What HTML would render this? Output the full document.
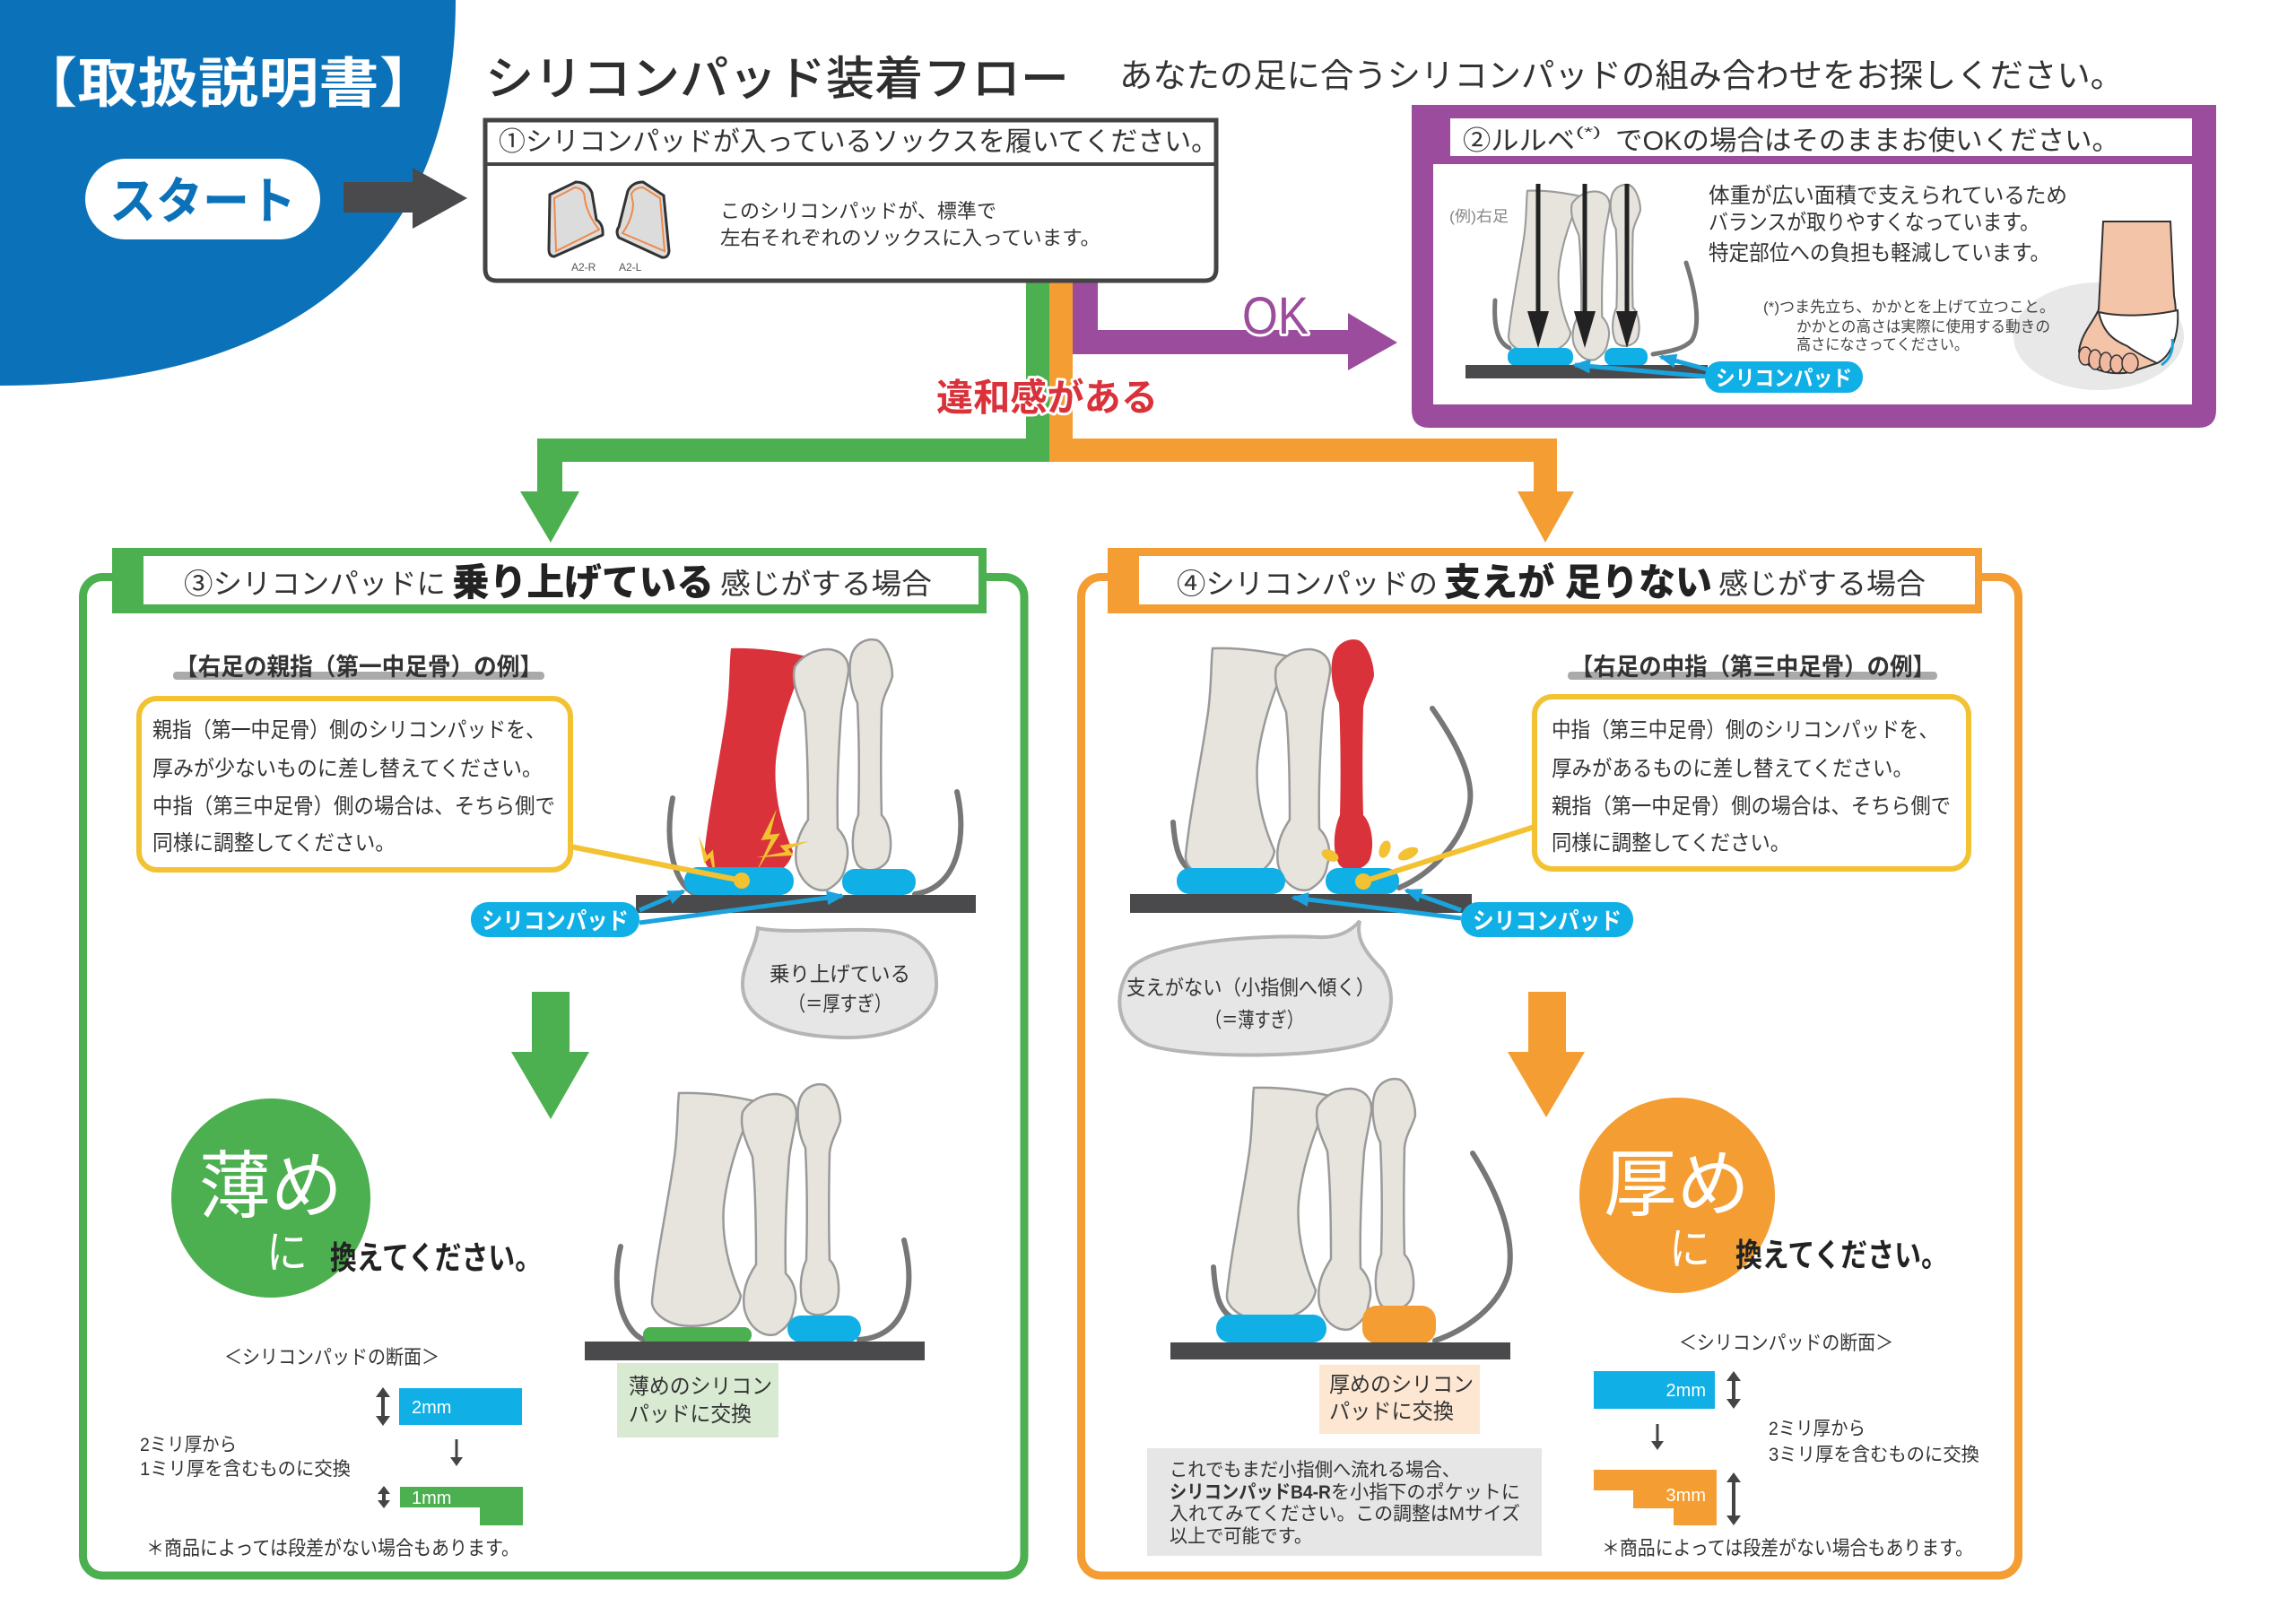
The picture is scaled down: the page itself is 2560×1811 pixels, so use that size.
<!DOCTYPE html>
<html><head><meta charset="utf-8"><style>
html,body{margin:0;padding:0;background:#fff;}
svg{display:block;}
text{font-family:"Liberation Sans","Noto Sans CJK JP",sans-serif;fill:#333;}
.b{font-weight:700;}
.w{fill:#fff;}
</style></head><body>
<svg width="2560" height="1811" viewBox="0 0 2560 1811" xmlns="http://www.w3.org/2000/svg">
<defs>
<marker id="ah" markerWidth="20" markerHeight="16" refX="17" refY="8" orient="auto" markerUnits="userSpaceOnUse"><path d="M0,0 L20,8 L0,16 Z" fill="#1aa3dc"/></marker>
<path id="b1" d="M757,1219 C785,1218 815,1222 842,1228 C828,1260 812,1300 807,1345 C804,1385 815,1420 826,1445 C822,1470 790,1482 760,1478 C740,1475 726,1462 727,1450 C732,1400 745,1340 752,1290 C756,1260 755,1235 757,1219 Z"/>
<path id="b2" d="M828,1240 C835,1228 850,1220 865,1220 C880,1221 889,1230 888,1245 C886,1260 882,1275 880,1290 C877,1330 875,1380 876,1420 C886,1430 890,1445 885,1460 C883,1475 875,1482 865,1488 C850,1492 835,1480 830,1460 C827,1440 833,1425 843,1410 C843,1370 842,1320 839,1290 C833,1275 824,1258 828,1240 Z"/>
<path id="b3" d="M892,1225 C897,1212 910,1207 920,1210 C930,1215 937,1235 937,1250 C934,1262 927,1270 925,1285 C924,1330 924,1370 925,1405 C935,1415 938,1440 932,1455 C925,1468 905,1470 898,1460 C890,1445 892,1420 899,1405 C900,1370 900,1320 898,1280 C890,1265 887,1240 892,1225 Z"/>
<path id="bolt" d="M0,0 L-14,28 L-5,27 L-18,56 L3,22 L-6,23 Z"/>
</defs>

<!-- Blue corner -->
<path d="M0,0 L508,0 C508,280 330,430 0,430 Z" fill="#0b72b9"/>
<text x="19" y="114" font-size="60" textLength="471" lengthAdjust="spacingAndGlyphs" class="b w">【取扱説明書】</text>
<rect x="95" y="177" width="262" height="90" rx="45" fill="#fff"/>
<text x="122" y="244" font-size="56" textLength="208" lengthAdjust="spacingAndGlyphs" class="b" style="fill:#0b72b9">スタート</text>
<path d="M383,203 H460 V187 L521,221 L460,255 V237 H383 Z" fill="#4a4a4c"/>

<!-- Title -->
<text x="541" y="106" font-size="52" textLength="651" lengthAdjust="spacingAndGlyphs" style="font-weight:500;fill:#2e2e2e">シリコンパッド装着フロー</text>
<text x="1248" y="97" font-size="37" textLength="1120" lengthAdjust="spacingAndGlyphs">あなたの足に合うシリコンパッドの組み合わせをお探しください。</text>

<!-- Connectors -->
<rect x="1144" y="312" width="26" height="203" fill="#4caf50"/>
<rect x="599" y="489" width="571" height="26" fill="#4caf50"/>
<rect x="599" y="489" width="28" height="62" fill="#4caf50"/>
<polygon points="580,548 646,548 614,605" fill="#4caf50"/>
<rect x="1170" y="312" width="26" height="203" fill="#f49d32"/>
<rect x="1170" y="489" width="566" height="26" fill="#f49d32"/>
<rect x="1710" y="489" width="26" height="62" fill="#f49d32"/>
<polygon points="1692,548 1755,548 1723,605" fill="#f49d32"/>
<rect x="1196" y="312" width="28" height="83" fill="#9b4c9c"/>
<rect x="1196" y="368" width="310" height="27" fill="#9b4c9c"/>
<polygon points="1503,349 1558,382 1503,413" fill="#9b4c9c"/>
<text x="1385" y="372" font-size="58" textLength="74" lengthAdjust="spacingAndGlyphs" style="fill:#9b4c9c;stroke:#fff;stroke-width:6;paint-order:stroke;stroke-linejoin:round">OK</text>
<text x="1044" y="458" font-size="42" textLength="247" lengthAdjust="spacingAndGlyphs" class="b" style="fill:#d9323a;stroke:#fff;stroke-width:6;paint-order:stroke;stroke-linejoin:round">違和感がある</text>

<!-- Box 1 -->
<path d="M541,134 H1356 V300 Q1356,313 1343,313 H554 Q541,313 541,300 Z" fill="#fff" stroke="#444" stroke-width="5"/>
<line x1="541" y1="183" x2="1356" y2="183" stroke="#444" stroke-width="4"/>
<text x="556" y="168" font-size="30" textLength="802" lengthAdjust="spacingAndGlyphs">①シリコンパッドが入っているソックスを履いてください。</text>
<path d="M613,217 L642,203 Q655,203 660,215 L665,245 Q673,250 672,262 L618,286 Q612,286 612,278 Z" fill="#dcdcdc" stroke="#333" stroke-width="3"/>
<path d="M618,221 L641,209 Q652,210 652,222 Q655,240 668,256 L620,280 Z" fill="none" stroke="#ee8a4a" stroke-width="2"/>
<path d="M700,213 Q705,203 717,203 L740,218 L746,280 Q745,288 738,287 L690,265 Q686,258 690,253 Z" fill="#dcdcdc" stroke="#333" stroke-width="3"/>
<path d="M704,216 Q708,209 717,209 L736,221 L741,280 L694,260 Q705,245 706,228 Z" fill="none" stroke="#ee8a4a" stroke-width="2"/>
<text x="637" y="302" font-size="12" style="fill:#555">A2-R</text>
<text x="690" y="302" font-size="12" style="fill:#555">A2-L</text>
<text x="803" y="243" font-size="22" textLength="308" lengthAdjust="spacingAndGlyphs">このシリコンパッドが、標準で</text>
<text x="803" y="273" font-size="22" textLength="424" lengthAdjust="spacingAndGlyphs">左右それぞれのソックスに入っています。</text>

<!-- Purple box -->
<path d="M1574,117 H2471 V457 Q2471,477 2451,477 H1594 Q1574,477 1574,457 Z" fill="#9b4c9c"/>
<rect x="1617" y="132" width="827" height="42" fill="#fff"/>
<rect x="1598" y="183" width="846" height="268" fill="#fff"/>
<ellipse cx="2340" cy="375" rx="95" ry="60" fill="#e8e8e8"/>
<text x="1631" y="167" font-size="30" textLength="125" lengthAdjust="spacingAndGlyphs">②ルルベ</text>
<text x="1757" y="152" font-size="15" textLength="28" lengthAdjust="spacingAndGlyphs">(*)</text>
<text x="1801" y="167" font-size="30" textLength="562" lengthAdjust="spacingAndGlyphs">でOKの場合はそのままお使いください。</text>
<text x="1616" y="247" font-size="17" textLength="66" lengthAdjust="spacingAndGlyphs" style="fill:#888">(例)右足</text>
<path d="M1667,335 C1665,365 1670,382 1683,388" fill="none" stroke="#777" stroke-width="5" stroke-linecap="round"/>
<path d="M1880,293 C1892,330 1896,365 1886,380 C1876,390 1860,392 1843,395" fill="none" stroke="#777" stroke-width="5" stroke-linecap="round"/>
<g transform="translate(1682,205) scale(0.7) translate(-727,-1208)" fill="#e6e4dc" stroke="#9a9a9a" stroke-width="3">
<use href="#b1"/><use href="#b2"/><use href="#b3"/>
</g>
<g fill="#222" stroke="#222">
<line x1="1715" y1="205" x2="1715" y2="352" stroke-width="5"/><polygon points="1703,347 1727,347 1715,388" stroke="none"/>
<line x1="1767" y1="205" x2="1767" y2="352" stroke-width="5"/><polygon points="1755,347 1779,347 1767,388" stroke="none"/>
<line x1="1814" y1="205" x2="1814" y2="352" stroke-width="5"/><polygon points="1802,347 1826,347 1814,388" stroke="none"/>
</g>
<rect x="1681" y="388" width="73" height="20" rx="9" fill="#10afe6"/>
<rect x="1789" y="388" width="48" height="20" rx="9" fill="#10afe6"/>
<rect x="1634" y="407" width="270" height="15" fill="#4a4a4c"/>
<line x1="1904" y1="420" x2="1756" y2="407" stroke="#1aa3dc" stroke-width="5" marker-end="url(#ah)"/>
<line x1="1904" y1="412" x2="1852" y2="398" stroke="#1aa3dc" stroke-width="5" marker-end="url(#ah)"/>
<rect x="1901" y="403" width="176" height="35" rx="17" fill="#10afe6"/>
<text x="1913" y="430" font-size="24" textLength="152" lengthAdjust="spacingAndGlyphs" class="b w">シリコンパッド</text>
<text x="1905" y="226" font-size="24" textLength="400" lengthAdjust="spacingAndGlyphs">体重が広い面積で支えられているため</text>
<text x="1905" y="256" font-size="24" textLength="369" lengthAdjust="spacingAndGlyphs">バランスが取りやすくなっています。</text>
<text x="1905" y="290" font-size="24" textLength="381" lengthAdjust="spacingAndGlyphs">特定部位への負担も軽減しています。</text>
<text x="1966" y="348" font-size="17" textLength="325" lengthAdjust="spacingAndGlyphs" style="fill:#444">(*)つま先立ち、かかとを上げて立つこと。</text>
<text x="2003" y="370" font-size="17" textLength="283" lengthAdjust="spacingAndGlyphs" style="fill:#444">かかとの高さは実際に使用する動きの</text>
<text x="2003" y="390" font-size="17" textLength="192" lengthAdjust="spacingAndGlyphs" style="fill:#444">高さになさってください。</text>
<path d="M2345,247 L2420,247 L2424,330 C2430,360 2420,395 2405,405 L2375,415 C2350,420 2322,410 2318,392 C2320,372 2335,358 2340,345 Z" fill="#f4c4a8" stroke="#333" stroke-width="2"/>
<path d="M2340,348 C2365,354 2400,352 2428,346 C2430,375 2420,398 2405,405 C2395,400 2380,392 2372,386 C2358,380 2345,372 2340,348 Z" fill="#fff" stroke="#333" stroke-width="2"/>
<g fill="#f1b9a0" stroke="#333" stroke-width="1.5">
<ellipse cx="2325" cy="397" rx="7" ry="10"/><ellipse cx="2336" cy="401" rx="7" ry="11"/><ellipse cx="2348" cy="404" rx="7" ry="11"/><ellipse cx="2360" cy="406" rx="7" ry="10"/><ellipse cx="2375" cy="405" rx="9" ry="11"/>
</g>
<path d="M2422,378 C2424,392 2418,402 2410,407" fill="none" stroke="#1aa3dc" stroke-width="3"/>

<!-- LEFT PANEL -->
<rect x="92.5" y="643.5" width="1049.5" height="1113.5" rx="22" fill="#fff" stroke="#4caf50" stroke-width="9"/>
<rect x="125" y="611" width="975" height="73" fill="#4caf50"/>
<rect x="160" y="620" width="931" height="54" fill="#fff"/>
<text x="205" y="662" font-size="32" textLength="292" lengthAdjust="spacingAndGlyphs">③シリコンパッドに</text>
<text x="504" y="664" font-size="42" textLength="292" lengthAdjust="spacingAndGlyphs" style="font-weight:900;fill:#222">乗り上げている</text>
<text x="803" y="662" font-size="32" textLength="236" lengthAdjust="spacingAndGlyphs">感じがする場合</text>
<rect x="193" y="749" width="414" height="9" rx="4" fill="#aaa"/>
<text x="195" y="753" font-size="27" textLength="410" lengthAdjust="spacingAndGlyphs" class="b">【右足の親指（第一中足骨）の例】</text>
<rect x="155" y="779" width="481" height="191" rx="20" fill="#fff" stroke="#f2c233" stroke-width="6"/>
<text x="170" y="822" font-size="24" textLength="438" lengthAdjust="spacingAndGlyphs">親指（第一中足骨）側のシリコンパッドを、</text>
<text x="170" y="865" font-size="24" textLength="435" lengthAdjust="spacingAndGlyphs">厚みが少ないものに差し替えてください。</text>
<text x="170" y="907" font-size="24" textLength="449" lengthAdjust="spacingAndGlyphs">中指（第三中足骨）側の場合は、そちら側で</text>
<text x="170" y="948" font-size="24" textLength="271" lengthAdjust="spacingAndGlyphs">同様に調整してください。</text>
<path d="M750,890 C740,940 752,990 778,998" fill="none" stroke="#777" stroke-width="6" stroke-linecap="round"/>
<path d="M1067,883 C1078,930 1070,990 1020,997" fill="none" stroke="#777" stroke-width="6" stroke-linecap="round"/>
<g transform="translate(58,-496)">
<use href="#b1" fill="#d9323a"/>
<use href="#b2" fill="#e6e4dc" stroke="#9a9a9a" stroke-width="2.5"/>
<use href="#b3" fill="#e6e4dc" stroke="#9a9a9a" stroke-width="2.5"/>
</g>
<g fill="#f2c233">
<use href="#bolt" transform="translate(866,902) scale(1.25)"/>
<use href="#bolt" transform="translate(779,932) rotate(-38) scale(1.0)"/>
<use href="#bolt" transform="translate(902,938) rotate(55) scale(1.05)"/>
</g>
<rect x="763" y="967" width="122" height="31" rx="15" fill="#10afe6"/>
<rect x="939" y="969" width="82" height="29" rx="14" fill="#10afe6"/>
<rect x="709" y="998" width="379" height="20" fill="#4a4a4c"/>
<line x1="636" y1="944" x2="827" y2="982" stroke="#f2c233" stroke-width="6"/>
<circle cx="827" cy="982" r="9" fill="#f2c233"/>
<line x1="713" y1="1015" x2="762" y2="994" stroke="#1aa3dc" stroke-width="5" marker-end="url(#ah)"/>
<line x1="713" y1="1029" x2="939" y2="999" stroke="#1aa3dc" stroke-width="5" marker-end="url(#ah)"/>
<rect x="525" y="1006" width="188" height="39" rx="19" fill="#10afe6"/>
<text x="537" y="1036" font-size="26" textLength="164" lengthAdjust="spacingAndGlyphs" class="b w">シリコンパッド</text>
<path d="M845,1035 C880,1042 940,1034 990,1038 C1030,1042 1045,1070 1044,1100 C1043,1135 1000,1158 942,1157 C880,1156 830,1140 828,1100 C827,1075 842,1060 845,1035 Z" fill="#e6e6e6" stroke="#b5b5b5" stroke-width="4"/>
<text x="858" y="1094" font-size="23" textLength="157" lengthAdjust="spacingAndGlyphs">乗り上げている</text>
<text x="879" y="1127" font-size="23" textLength="115" lengthAdjust="spacingAndGlyphs">（＝厚すぎ）</text>
<rect x="593" y="1106" width="42" height="68" fill="#4caf50"/>
<polygon points="570,1173 657,1173 614,1248" fill="#4caf50"/>
<circle cx="302" cy="1336" r="111" fill="#4caf50"/>
<text x="222" y="1351" font-size="82" textLength="160" lengthAdjust="spacingAndGlyphs" class="w">薄め</text>
<text x="297" y="1414" font-size="50" textLength="46" lengthAdjust="spacingAndGlyphs" class="w">に</text>
<text x="368" y="1415" font-size="36" textLength="236" lengthAdjust="spacingAndGlyphs" class="b" style="fill:#222">換えてください。</text>
<path d="M692,1390 C680,1440 695,1485 718,1494" fill="none" stroke="#777" stroke-width="6" stroke-linecap="round"/>
<path d="M1008,1383 C1022,1440 1010,1490 958,1494" fill="none" stroke="#777" stroke-width="6" stroke-linecap="round"/>
<g fill="#e6e4dc" stroke="#9a9a9a" stroke-width="2.5"><use href="#b1"/><use href="#b2"/><use href="#b3"/></g>
<rect x="717" y="1480" width="121" height="17" rx="8" fill="#4caf50"/>
<rect x="878" y="1467" width="82" height="30" rx="15" fill="#10afe6"/>
<rect x="652" y="1496" width="379" height="21" fill="#4a4a4c"/>
<rect x="688" y="1520" width="180" height="83" fill="#d9ead3"/>
<text x="701" y="1554" font-size="24" textLength="160" lengthAdjust="spacingAndGlyphs">薄めのシリコン</text>
<text x="701" y="1585" font-size="24" textLength="137" lengthAdjust="spacingAndGlyphs">パッドに交換</text>
<text x="250" y="1521" font-size="22" textLength="240" lengthAdjust="spacingAndGlyphs">＜シリコンパッドの断面＞</text>
<rect x="445" y="1548" width="137" height="41" fill="#10afe6"/>
<text x="459" y="1576" font-size="20" class="w">2mm</text>
<path d="M446,1658 H583 V1701 H535 V1681 H446 Z" fill="#4caf50"/>
<text x="459" y="1677" font-size="20" class="w">1mm</text>
<g fill="#444" stroke="#444">
<line x1="427" y1="1555" x2="427" y2="1582" stroke-width="4"/><polygon points="419,1558 435,1558 427,1547" stroke="none"/><polygon points="419,1579 435,1579 427,1590" stroke="none"/>
<line x1="509" y1="1605" x2="509" y2="1627" stroke-width="3"/><polygon points="502,1625 516,1625 509,1635" stroke="none"/>
<line x1="428" y1="1663" x2="428" y2="1676" stroke-width="4"/><polygon points="421,1666 435,1666 428,1657" stroke="none"/><polygon points="421,1673 435,1673 428,1682" stroke="none"/>
</g>
<text x="156" y="1618" font-size="21" textLength="108" lengthAdjust="spacingAndGlyphs">2ミリ厚から</text>
<text x="156" y="1645" font-size="21" textLength="235" lengthAdjust="spacingAndGlyphs">1ミリ厚を含むものに交換</text>
<text x="163" y="1734" font-size="22" textLength="416" lengthAdjust="spacingAndGlyphs">＊商品によっては段差がない場合もあります。</text>

<!-- RIGHT PANEL -->
<rect x="1205.5" y="643.5" width="1045" height="1113.5" rx="22" fill="#fff" stroke="#f49d32" stroke-width="9"/>
<rect x="1235" y="611" width="975" height="73" fill="#f49d32"/>
<rect x="1270" y="620" width="932" height="54" fill="#fff"/>
<text x="1312" y="662" font-size="32" textLength="291" lengthAdjust="spacingAndGlyphs">④シリコンパッドの</text>
<text x="1610" y="664" font-size="42" textLength="299" lengthAdjust="spacingAndGlyphs" style="font-weight:900;fill:#222">支えが 足りない</text>
<text x="1916" y="662" font-size="32" textLength="231" lengthAdjust="spacingAndGlyphs">感じがする場合</text>
<rect x="1748" y="749" width="412" height="9" rx="4" fill="#aaa"/>
<text x="1751" y="753" font-size="27" textLength="407" lengthAdjust="spacingAndGlyphs" class="b">【右足の中指（第三中足骨）の例】</text>
<rect x="1711" y="777" width="484" height="192" rx="20" fill="#fff" stroke="#f2c233" stroke-width="6"/>
<text x="1730" y="822" font-size="24" textLength="431" lengthAdjust="spacingAndGlyphs">中指（第三中足骨）側のシリコンパッドを、</text>
<text x="1730" y="865" font-size="24" textLength="403" lengthAdjust="spacingAndGlyphs">厚みがあるものに差し替えてください。</text>
<text x="1730" y="907" font-size="24" textLength="445" lengthAdjust="spacingAndGlyphs">親指（第一中足骨）側の場合は、そちら側で</text>
<text x="1730" y="948" font-size="24" textLength="266" lengthAdjust="spacingAndGlyphs">同様に調整してください。</text>
<path d="M1308,917 C1310,945 1315,962 1327,970" fill="none" stroke="#777" stroke-width="6" stroke-linecap="round"/>
<path d="M1597,790 C1625,830 1645,870 1638,900 C1630,940 1595,975 1560,990" fill="none" stroke="#777" stroke-width="6" stroke-linecap="round"/>
<g transform="translate(595,-496)">
<use href="#b1" fill="#e6e4dc" stroke="#9a9a9a" stroke-width="2.5"/>
<use href="#b2" fill="#e6e4dc" stroke="#9a9a9a" stroke-width="2.5"/>
<use href="#b3" fill="#d9323a"/>
</g>
<g fill="#f2c233">
<ellipse cx="1483" cy="954" rx="10" ry="6" transform="rotate(25 1483 954)"/>
<ellipse cx="1544" cy="947" rx="6" ry="10" transform="rotate(20 1544 947)"/>
<ellipse cx="1570" cy="952" rx="12" ry="6" transform="rotate(-25 1570 952)"/>
</g>
<rect x="1312" y="968" width="121" height="29" rx="14" fill="#10afe6"/>
<rect x="1478" y="968" width="82" height="29" rx="14" fill="#10afe6"/>
<rect x="1260" y="997" width="381" height="21" fill="#4a4a4c"/>
<line x1="1711" y1="922" x2="1520" y2="983" stroke="#f2c233" stroke-width="6"/>
<circle cx="1520" cy="983" r="9" fill="#f2c233"/>
<line x1="1629" y1="1024" x2="1442" y2="1001" stroke="#1aa3dc" stroke-width="5" marker-end="url(#ah)"/>
<line x1="1629" y1="1015" x2="1568" y2="993" stroke="#1aa3dc" stroke-width="5" marker-end="url(#ah)"/>
<rect x="1629" y="1006" width="192" height="39" rx="19" fill="#10afe6"/>
<text x="1642" y="1036" font-size="26" textLength="166" lengthAdjust="spacingAndGlyphs" class="b w">シリコンパッド</text>
<path d="M1516,1027 C1512,1045 1520,1060 1540,1080 C1556,1100 1556,1140 1530,1160 C1490,1180 1330,1182 1280,1165 C1245,1150 1240,1110 1260,1080 C1290,1050 1400,1042 1470,1045 C1490,1046 1505,1040 1516,1027 Z" fill="#e6e6e6" stroke="#b5b5b5" stroke-width="4"/>
<text x="1256" y="1109" font-size="23" textLength="277" lengthAdjust="spacingAndGlyphs">支えがない（小指側へ傾く）</text>
<text x="1344" y="1145" font-size="23" textLength="109" lengthAdjust="spacingAndGlyphs">（＝薄すぎ）</text>
<rect x="1704" y="1106" width="42" height="68" fill="#f49d32"/>
<polygon points="1681,1173 1767,1173 1724,1246" fill="#f49d32"/>
<circle cx="1870" cy="1333" r="109" fill="#f49d32"/>
<text x="1788" y="1349" font-size="82" textLength="163" lengthAdjust="spacingAndGlyphs" class="w">厚め</text>
<text x="1861" y="1410" font-size="50" textLength="46" lengthAdjust="spacingAndGlyphs" class="w">に</text>
<text x="1935" y="1412" font-size="36" textLength="237" lengthAdjust="spacingAndGlyphs" class="b" style="fill:#222">換えてください。</text>
<path d="M1353,1413 C1355,1445 1360,1465 1379,1472" fill="none" stroke="#777" stroke-width="6" stroke-linecap="round"/>
<path d="M1642,1286 C1670,1330 1690,1380 1682,1420 C1670,1460 1630,1485 1600,1495" fill="none" stroke="#777" stroke-width="6" stroke-linecap="round"/>
<g transform="translate(641,-6)" fill="#e6e4dc" stroke="#9a9a9a" stroke-width="2.5"><use href="#b1"/><use href="#b2"/><use href="#b3"/></g>
<rect x="1356" y="1466" width="123" height="31" rx="15" fill="#10afe6"/>
<rect x="1519" y="1456" width="82" height="42" rx="16" fill="#f49d32"/>
<rect x="1305" y="1497" width="379" height="19" fill="#4a4a4c"/>
<rect x="1471" y="1522" width="179" height="77" fill="#fde7d2"/>
<text x="1482" y="1552" font-size="24" textLength="161" lengthAdjust="spacingAndGlyphs">厚めのシリコン</text>
<text x="1482" y="1582" font-size="24" textLength="139" lengthAdjust="spacingAndGlyphs">パッドに交換</text>
<rect x="1279" y="1615" width="440" height="120" fill="#e6e6e6"/>
<text x="1304" y="1646" font-size="21" textLength="324" lengthAdjust="spacingAndGlyphs">これでもまだ小指側へ流れる場合、</text>
<text x="1304" y="1671" font-size="21" textLength="180" lengthAdjust="spacingAndGlyphs" class="b">シリコンパッドB4-R</text>
<text x="1484" y="1671" font-size="21" textLength="211" lengthAdjust="spacingAndGlyphs">を小指下のポケットに</text>
<text x="1304" y="1695" font-size="21" textLength="391" lengthAdjust="spacingAndGlyphs">入れてみてください。この調整はMサイズ</text>
<text x="1304" y="1720" font-size="21" textLength="159" lengthAdjust="spacingAndGlyphs">以上で可能です。</text>
<text x="1872" y="1505" font-size="22" textLength="239" lengthAdjust="spacingAndGlyphs">＜シリコンパッドの断面＞</text>
<rect x="1777" y="1529" width="135" height="42" fill="#10afe6"/>
<text x="1902" y="1557" font-size="20" text-anchor="end" class="w">2mm</text>
<path d="M1777,1639 H1914 V1701 H1866 V1682 H1821 V1662 H1777 Z" fill="#f49d32"/>
<text x="1902" y="1674" font-size="20" text-anchor="end" class="w">3mm</text>
<g fill="#444" stroke="#444">
<line x1="1933" y1="1537" x2="1933" y2="1563" stroke-width="4"/><polygon points="1925,1540 1941,1540 1933,1529" stroke="none"/><polygon points="1925,1560 1941,1560 1933,1571" stroke="none"/>
<line x1="1848" y1="1588" x2="1848" y2="1609" stroke-width="3"/><polygon points="1841,1607 1855,1607 1848,1617" stroke="none"/>
<line x1="1933" y1="1650" x2="1933" y2="1693" stroke-width="4"/><polygon points="1925,1653 1941,1653 1933,1642" stroke="none"/><polygon points="1925,1690 1941,1690 1933,1701" stroke="none"/>
</g>
<text x="1972" y="1600" font-size="21" textLength="108" lengthAdjust="spacingAndGlyphs">2ミリ厚から</text>
<text x="1972" y="1629" font-size="21" textLength="235" lengthAdjust="spacingAndGlyphs">3ミリ厚を含むものに交換</text>
<text x="1786" y="1734" font-size="22" textLength="414" lengthAdjust="spacingAndGlyphs">＊商品によっては段差がない場合もあります。</text>
</svg>
</body></html>
